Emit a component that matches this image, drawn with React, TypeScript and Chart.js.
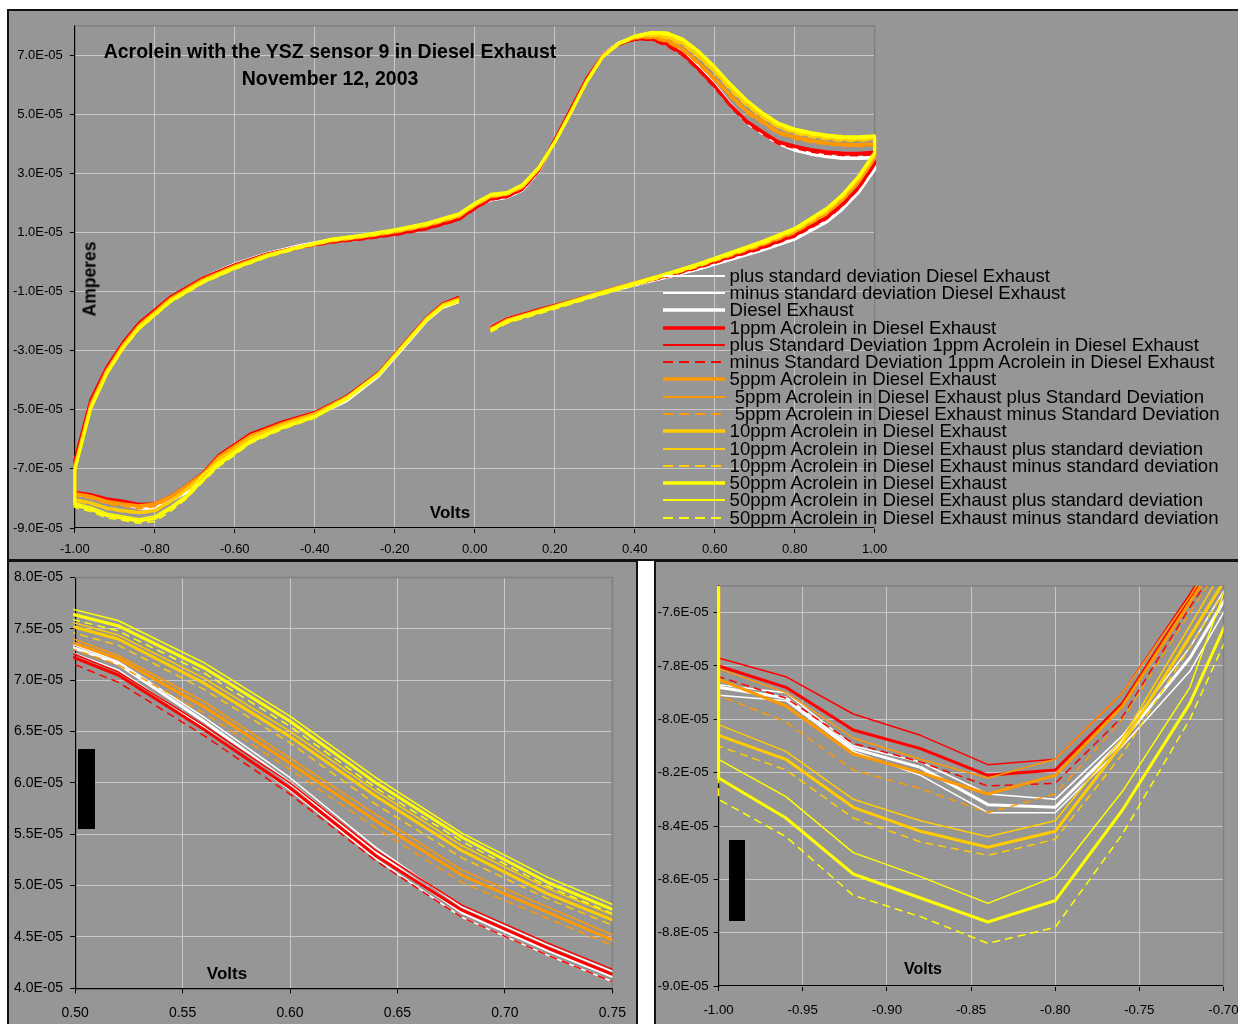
import React, { useEffect, useRef } from "react";
import { Chart, registerables } from "chart.js";

Chart.register(...registerables);

// Potential (V) in sweep order: forward 0.04 -> +1.00, reverse +1.00 -> -1.00, forward -1.00 -> -0.04
const volts = [
  0.04, 0.08, 0.16, 0.24, 0.32, 0.40, 0.48, 0.56, 0.64, 0.72, 0.80, 0.88, 0.92, 0.96, 1.00,
  1.00, 0.96, 0.92, 0.88, 0.84, 0.80, 0.76, 0.72, 0.68, 0.64, 0.60, 0.56, 0.52, 0.48, 0.44, 0.40, 0.36, 0.32, 0.28, 0.24, 0.20,
  0.16, 0.12, 0.08, 0.04, 0.00, -0.04, -0.12, -0.20, -0.28, -0.36, -0.44, -0.52, -0.60, -0.68, -0.76, -0.84, -0.88, -0.92, -0.96, -1.00,
  -1.00, -0.96, -0.92, -0.88, -0.84, -0.80, -0.76, -0.72, -0.68, -0.64, -0.56, -0.48, -0.40, -0.32, -0.24, -0.16, -0.12, -0.08, -0.04,
];

// Currents in units of 1E-05 A, same order as volts
const dePlus = [
  -2.16, -1.89, -1.59, -1.31, -1.00, -0.72, -0.46, -0.18, 0.14, 0.46, 0.85, 1.43, 1.87, 2.43, 3.20,
  3.59, 3.56, 3.56, 3.62, 3.71, 3.84, 4.08, 4.42, 4.79, 5.37, 6.05, 6.64, 7.18, 7.50, 7.64, 7.63, 7.45, 7.05, 6.24, 5.19, 4.14,
  3.12, 2.49, 2.24, 2.16, 1.88, 1.52, 1.22, 1.04, 0.90, 0.78, 0.58, 0.32, -0.04, -0.51, -1.16, -2.08, -2.74, -3.58, -4.70, -6.80,
  -7.87, -7.90, -8.10, -8.16, -8.28, -8.30, -8.06, -7.73, -7.31, -6.68, -5.94, -5.51, -5.16, -4.64, -3.80, -2.56, -1.93, -1.48, -1.29,
];
const deMinus = [
  -2.24, -1.97, -1.67, -1.39, -1.08, -0.80, -0.54, -0.26, 0.06, 0.38, 0.75, 1.33, 1.77, 2.33, 3.10,
  3.51, 3.48, 3.48, 3.54, 3.63, 3.76, 3.98, 4.32, 4.69, 5.26, 5.93, 6.54, 7.10, 7.41, 7.56, 7.57, 7.39, 6.99, 6.16, 5.11, 4.06,
  3.04, 2.41, 2.16, 2.08, 1.80, 1.44, 1.14, 0.96, 0.82, 0.70, 0.50, 0.24, -0.12, -0.59, -1.24, -2.16, -2.82, -3.66, -4.78, -6.90,
  -7.91, -7.93, -8.12, -8.21, -8.35, -8.35, -8.10, -7.82, -7.38, -6.76, -6.02, -5.59, -5.24, -4.72, -3.88, -2.64, -2.01, -1.56, -1.37,
];
const de = [
  -2.20, -1.93, -1.63, -1.35, -1.04, -0.76, -0.50, -0.22, 0.10, 0.42, 0.80, 1.38, 1.82, 2.38, 3.15,
  3.55, 3.52, 3.52, 3.58, 3.67, 3.80, 4.03, 4.37, 4.74, 5.32, 6.00, 6.60, 7.16, 7.46, 7.60, 7.60, 7.42, 7.02, 6.20, 5.15, 4.10,
  3.08, 2.45, 2.20, 2.12, 1.84, 1.48, 1.18, 1.00, 0.86, 0.74, 0.54, 0.28, -0.08, -0.55, -1.20, -2.12, -2.78, -3.62, -4.74, -6.85,
  -7.88, -7.92, -8.11, -8.18, -8.32, -8.33, -8.08, -7.77, -7.35, -6.72, -5.98, -5.55, -5.20, -4.68, -3.84, -2.60, -1.97, -1.52, -1.33,
];
const ppm1 = [
  -2.22, -1.94, -1.63, -1.34, -1.02, -0.73, -0.46, -0.16, 0.18, 0.50, 0.90, 1.50, 1.95, 2.52, 3.32,
  3.70, 3.66, 3.67, 3.71, 3.79, 3.91, 4.05, 4.39, 4.76, 5.29, 5.95, 6.52, 7.05, 7.38, 7.56, 7.55, 7.38, 7.00, 6.22, 5.18, 4.14,
  3.10, 2.48, 2.22, 2.14, 1.82, 1.45, 1.14, 0.94, 0.80, 0.68, 0.50, 0.26, -0.10, -0.55, -1.18, -2.08, -2.74, -3.56, -4.66, -6.70,
  -7.80, -7.88, -8.04, -8.11, -8.21, -8.19, -7.94, -7.55, -7.15, -6.55, -5.82, -5.42, -5.10, -4.55, -3.75, -2.50, -1.88, -1.42, -1.20,
];
const ppm1Plus = [
  -2.17, -1.89, -1.58, -1.29, -0.97, -0.68, -0.41, -0.11, 0.23, 0.55, 0.95, 1.55, 2.00, 2.57, 3.37,
  3.75, 3.71, 3.72, 3.76, 3.84, 3.96, 4.10, 4.44, 4.81, 5.34, 6.00, 6.56, 7.08, 7.42, 7.60, 7.59, 7.42, 7.04, 6.26, 5.22, 4.18,
  3.14, 2.52, 2.26, 2.18, 1.86, 1.49, 1.18, 0.98, 0.84, 0.72, 0.54, 0.30, -0.06, -0.51, -1.14, -2.04, -2.70, -3.52, -4.62, -6.65,
  -7.77, -7.84, -7.98, -8.06, -8.17, -8.15, -7.90, -7.53, -7.12, -6.51, -5.78, -5.38, -5.06, -4.51, -3.71, -2.46, -1.84, -1.38, -1.16,
];
const ppm1Minus = [
  -2.27, -1.99, -1.68, -1.39, -1.07, -0.78, -0.51, -0.21, 0.13, 0.45, 0.85, 1.45, 1.90, 2.47, 3.27,
  3.64, 3.60, 3.61, 3.65, 3.73, 3.85, 3.98, 4.32, 4.69, 5.24, 5.89, 6.46, 6.98, 7.32, 7.51, 7.51, 7.34, 6.96, 6.18, 5.14, 4.10,
  3.06, 2.44, 2.18, 2.10, 1.78, 1.41, 1.10, 0.90, 0.76, 0.64, 0.46, 0.22, -0.14, -0.59, -1.22, -2.12, -2.78, -3.60, -4.70, -6.75,
  -7.84, -7.92, -8.09, -8.16, -8.25, -8.24, -7.99, -7.58, -7.20, -6.59, -5.86, -5.46, -5.14, -4.59, -3.79, -2.54, -1.92, -1.46, -1.24,
];
const ppm5 = [
  -2.28, -1.98, -1.66, -1.35, -1.02, -0.72, -0.43, -0.11, 0.25, 0.60, 1.02, 1.66, 2.12, 2.72, 3.52,
  3.98, 3.96, 3.97, 4.02, 4.10, 4.22, 4.38, 4.74, 5.10, 5.63, 6.19, 6.74, 7.21, 7.50, 7.63, 7.60, 7.40, 6.98, 6.15, 5.10, 4.08,
  3.15, 2.55, 2.30, 2.22, 1.92, 1.55, 1.24, 1.02, 0.86, 0.72, 0.50, 0.24, -0.14, -0.60, -1.24, -2.15, -2.82, -3.66, -4.80, -6.90,
  -7.85, -7.95, -8.13, -8.20, -8.28, -8.21, -7.95, -7.56, -7.18, -6.60, -5.88, -5.47, -5.14, -4.58, -3.77, -2.52, -1.90, -1.45, -1.25,
];
const ppm5Plus = [
  -2.23, -1.93, -1.61, -1.30, -0.97, -0.67, -0.38, -0.06, 0.30, 0.65, 1.07, 1.71, 2.17, 2.77, 3.57,
  4.03, 4.01, 4.02, 4.07, 4.15, 4.27, 4.43, 4.79, 5.15, 5.69, 6.24, 6.79, 7.24, 7.55, 7.67, 7.64, 7.44, 7.02, 6.19, 5.14, 4.12,
  3.19, 2.59, 2.34, 2.26, 1.96, 1.59, 1.28, 1.06, 0.90, 0.76, 0.54, 0.28, -0.10, -0.56, -1.20, -2.11, -2.78, -3.62, -4.76, -6.85,
  -7.81, -7.90, -8.07, -8.15, -8.22, -8.15, -7.90, -7.54, -7.14, -6.56, -5.84, -5.43, -5.10, -4.54, -3.73, -2.48, -1.86, -1.41, -1.21,
];
const ppm5Minus = [
  -2.33, -2.03, -1.71, -1.40, -1.07, -0.77, -0.48, -0.16, 0.20, 0.55, 0.97, 1.61, 2.07, 2.67, 3.47,
  3.93, 3.91, 3.92, 3.97, 4.05, 4.17, 4.33, 4.68, 5.03, 5.56, 6.13, 6.68, 7.15, 7.44, 7.58, 7.56, 7.36, 6.94, 6.11, 5.06, 4.04,
  3.11, 2.51, 2.26, 2.18, 1.88, 1.51, 1.20, 0.98, 0.82, 0.68, 0.46, 0.20, -0.18, -0.64, -1.28, -2.19, -2.86, -3.70, -4.84, -6.95,
  -7.91, -8.01, -8.19, -8.26, -8.35, -8.28, -8.00, -7.60, -7.22, -6.64, -5.92, -5.51, -5.18, -4.62, -3.81, -2.56, -1.94, -1.49, -1.29,
];
const ppm10 = [
  -2.30, -2.00, -1.68, -1.36, -1.03, -0.72, -0.42, -0.09, 0.28, 0.65, 1.08, 1.74, 2.22, 2.82, 3.62,
  4.18, 4.15, 4.15, 4.20, 4.28, 4.40, 4.58, 4.92, 5.34, 5.87, 6.45, 6.97, 7.40, 7.63, 7.70, 7.62, 7.40, 6.96, 6.12, 5.07, 4.06,
  3.18, 2.58, 2.32, 2.25, 1.95, 1.58, 1.27, 1.05, 0.88, 0.74, 0.50, 0.22, -0.17, -0.64, -1.28, -2.20, -2.87, -3.72, -4.88, -6.98,
  -8.06, -8.15, -8.33, -8.42, -8.48, -8.42, -8.09, -7.69, -7.28, -6.70, -5.95, -5.52, -5.18, -4.60, -3.79, -2.54, -1.93, -1.47, -1.28,
];
const ppm10Plus = [
  -2.25, -1.95, -1.63, -1.31, -0.98, -0.67, -0.37, -0.04, 0.33, 0.70, 1.13, 1.79, 2.27, 2.87, 3.67,
  4.23, 4.20, 4.20, 4.25, 4.33, 4.45, 4.63, 4.97, 5.39, 5.92, 6.50, 7.02, 7.44, 7.67, 7.74, 7.66, 7.44, 7.00, 6.16, 5.11, 4.10,
  3.22, 2.62, 2.36, 2.29, 1.99, 1.62, 1.31, 1.09, 0.92, 0.78, 0.54, 0.26, -0.13, -0.60, -1.24, -2.16, -2.83, -3.68, -4.84, -6.93,
  -8.02, -8.12, -8.30, -8.38, -8.44, -8.38, -8.07, -7.65, -7.22, -6.66, -5.91, -5.48, -5.14, -4.56, -3.75, -2.50, -1.89, -1.43, -1.24,
];
const ppm10Minus = [
  -2.35, -2.05, -1.73, -1.41, -1.08, -0.77, -0.47, -0.14, 0.23, 0.60, 1.03, 1.69, 2.17, 2.77, 3.57,
  4.12, 4.09, 4.09, 4.14, 4.22, 4.34, 4.53, 4.87, 5.27, 5.79, 6.39, 6.91, 7.34, 7.57, 7.65, 7.58, 7.36, 6.92, 6.08, 5.03, 4.02,
  3.14, 2.54, 2.28, 2.21, 1.91, 1.54, 1.23, 1.01, 0.84, 0.70, 0.46, 0.18, -0.21, -0.68, -1.32, -2.24, -2.91, -3.76, -4.92, -7.03,
  -8.10, -8.19, -8.37, -8.46, -8.51, -8.45, -8.13, -7.73, -7.32, -6.74, -5.99, -5.56, -5.22, -4.64, -3.83, -2.58, -1.97, -1.51, -1.32,
];
const ppm50 = [
  -2.32, -2.02, -1.70, -1.38, -1.05, -0.74, -0.42, -0.08, 0.30, 0.68, 1.12, 1.80, 2.28, 2.90, 3.70,
  4.25, 4.22, 4.23, 4.28, 4.36, 4.48, 4.68, 5.03, 5.47, 6.00, 6.60, 7.12, 7.53, 7.74, 7.76, 7.64, 7.40, 6.95, 6.10, 5.05, 4.05,
  3.20, 2.62, 2.34, 2.28, 1.98, 1.62, 1.30, 1.08, 0.90, 0.76, 0.50, 0.20, -0.20, -0.68, -1.32, -2.25, -2.92, -3.78, -4.95, -7.05,
  -8.22, -8.37, -8.58, -8.67, -8.76, -8.68, -8.34, -7.94, -7.38, -6.85, -6.08, -5.60, -5.24, -4.62, -3.80, -2.56, -1.95, -1.50, -1.32,
];
const ppm50Plus = [
  -2.27, -1.97, -1.65, -1.33, -1.00, -0.69, -0.37, -0.03, 0.35, 0.73, 1.17, 1.85, 2.33, 2.95, 3.75,
  4.30, 4.27, 4.28, 4.33, 4.41, 4.53, 4.73, 5.08, 5.51, 6.05, 6.65, 7.17, 7.58, 7.79, 7.80, 7.68, 7.44, 6.99, 6.14, 5.09, 4.09,
  3.24, 2.66, 2.38, 2.32, 2.02, 1.66, 1.34, 1.12, 0.94, 0.80, 0.54, 0.24, -0.16, -0.64, -1.28, -2.21, -2.88, -3.74, -4.91, -7.00,
  -8.15, -8.29, -8.50, -8.59, -8.69, -8.59, -8.27, -7.88, -7.18, -6.78, -6.03, -5.56, -5.20, -4.58, -3.76, -2.52, -1.91, -1.46, -1.28,
];
const ppm50Minus = [
  -2.37, -2.07, -1.75, -1.43, -1.10, -0.79, -0.47, -0.13, 0.25, 0.63, 1.07, 1.75, 2.23, 2.85, 3.65,
  4.20, 4.17, 4.18, 4.23, 4.31, 4.43, 4.64, 4.99, 5.43, 5.95, 6.55, 7.07, 7.48, 7.69, 7.71, 7.60, 7.36, 6.91, 6.06, 5.01, 4.01,
  3.16, 2.58, 2.30, 2.24, 1.94, 1.58, 1.26, 1.04, 0.86, 0.72, 0.46, 0.16, -0.24, -0.72, -1.36, -2.29, -2.96, -3.82, -4.99, -7.10,
  -8.30, -8.44, -8.66, -8.74, -8.84, -8.78, -8.43, -8.00, -7.44, -6.92, -6.13, -5.65, -5.28, -4.66, -3.84, -2.60, -1.99, -1.54, -1.36,
];

const seriesLabels = [
  "plus standard deviation Diesel Exhaust",
  "minus standard deviation Diesel Exhaust",
  "Diesel Exhaust",
  "1ppm Acrolein in Diesel Exhaust",
  "plus Standard Deviation 1ppm Acrolein in Diesel Exhaust",
  "minus Standard Deviation 1ppm Acrolein in Diesel Exhaust",
  "5ppm Acrolein in Diesel Exhaust",
  " 5ppm Acrolein in Diesel Exhaust plus Standard Deviation",
  " 5ppm Acrolein in Diesel Exhaust minus Standard Deviation",
  "10ppm Acrolein in Diesel Exhaust",
  "10ppm Acrolein in Diesel Exhaust plus standard deviation",
  "10ppm Acrolein in Diesel Exhaust minus standard deviation",
  "50ppm Acrolein in Diesel Exhaust",
  "50ppm Acrolein in Diesel Exhaust plus standard deviation",
  "50ppm Acrolein in Diesel Exhaust minus standard deviation",
];
const seriesValues = [
  dePlus, deMinus, de,
  ppm1, ppm1Plus, ppm1Minus,
  ppm5, ppm5Plus, ppm5Minus,
  ppm10, ppm10Plus, ppm10Minus,
  ppm50, ppm50Plus, ppm50Minus,
];

// Axis ticks (y in units of 1E-05 A)
const mainXTicks = [-1.0, -0.8, -0.6, -0.4, -0.2, 0.0, 0.2, 0.4, 0.6, 0.8, 1.0];
const mainYTicks = [-9.0, -7.0, -5.0, -3.0, -1.0, 1.0, 3.0, 5.0, 7.0];
const leftXTicks = [0.5, 0.55, 0.6, 0.65, 0.7, 0.75];
const leftYTicks = [4.0, 4.5, 5.0, 5.5, 6.0, 6.5, 7.0, 7.5, 8.0];
const rightXTicks = [-1.0, -0.95, -0.9, -0.85, -0.8, -0.75, -0.7];
const rightYTicks = [-9.0, -8.8, -8.6, -8.4, -8.2, -8.0, -7.8, -7.6];

const FONT = "'Liberation Sans', Arial, Helvetica, sans-serif";
const PANEL = "#969696";
const WHITE = "#FFFFFF";
const RED = "#FF0000";
const ORANGE = "#FF9900";
const GOLD = "#FFCC00";
const YELLOW = "#FFFF00";

type LineStyle = { color: string; kind: "thick" | "thin" | "dash" };
const lineStyles: LineStyle[] = [
  { color: WHITE, kind: "thin" }, { color: WHITE, kind: "thin" }, { color: WHITE, kind: "thick" },
  { color: RED, kind: "thick" }, { color: RED, kind: "thin" }, { color: RED, kind: "dash" },
  { color: ORANGE, kind: "thick" }, { color: ORANGE, kind: "thin" }, { color: ORANGE, kind: "dash" },
  { color: GOLD, kind: "thick" }, { color: GOLD, kind: "thin" }, { color: GOLD, kind: "dash" },
  { color: YELLOW, kind: "thick" }, { color: YELLOW, kind: "thin" }, { color: YELLOW, kind: "dash" },
];

type PanelCfg = {
  width: number; height: number;
  xMin: number; xMax: number; xTicks: number[];
  yMin: number; yMax: number; yTicks: number[];
  yAxisWidth: number; xAxisHeight: number;
  pad: { left: number; top: number; right: number; bottom: number };
  font: number; yLabelPad: number; xLabelPad: number;
  clip: boolean;
};

const plotBorder = {
  id: "plotBorder",
  beforeDatasetsDraw(chart: any) {
    const { ctx, chartArea: a } = chart;
    ctx.save();
    ctx.strokeStyle = "#808080";
    ctx.lineWidth = 1.5;
    ctx.beginPath();
    ctx.moveTo(a.left, a.top);
    ctx.lineTo(a.right, a.top);
    ctx.lineTo(a.right, a.bottom);
    ctx.stroke();
    ctx.restore();
  },
};

function buildConfig(c: PanelCfg): any {
  const n = seriesValues.length;
  const datasets = seriesValues.map((vals, i) => {
    const st = lineStyles[i];
    return {
      label: seriesLabels[i],
      data: vals.map((v, j) => ({ x: volts[j], y: v * 1e-5 })),
      borderColor: st.color,
      backgroundColor: st.color,
      borderWidth: st.kind === "thick" ? 3 : 1.5,
      borderDash: st.kind === "dash" ? [8, 5] : [],
      borderJoinStyle: "round",
      pointRadius: 0,
      showLine: true,
      fill: false,
      tension: 0,
      order: n - i,
      clip: c.clip ? { left: 2, top: 0, right: 0, bottom: 0 } : false,
    };
  });
  const tickFont = { family: FONT, size: c.font };
  return {
    type: "scatter",
    data: { datasets },
    plugins: [plotBorder],
    options: {
      animation: false,
      responsive: false,
      events: [],
      layout: { padding: c.pad },
      plugins: { legend: { display: false }, tooltip: { enabled: false }, title: { display: false } },
      scales: {
        x: {
          type: "linear",
          min: c.xMin,
          max: c.xMax,
          afterBuildTicks: (s: any) => { s.ticks = c.xTicks.map((v) => ({ value: v })); },
          afterFit: (s: any) => { s.height = c.xAxisHeight; },
          ticks: {
            callback: (v: any) => Number(v).toFixed(2),
            color: "#000",
            font: tickFont,
            padding: c.xLabelPad,
            maxRotation: 0,
            autoSkip: false,
          },
          grid: { color: "#c8c8c8", lineWidth: 1, tickLength: 5, tickColor: "#000", drawTicks: true },
          border: { color: "#000", width: 1.2 },
        },
        y: {
          type: "linear",
          min: c.yMin * 1e-5,
          max: c.yMax * 1e-5,
          afterBuildTicks: (s: any) => { s.ticks = c.yTicks.map((v) => ({ value: v * 1e-5 })); },
          afterFit: (s: any) => { s.width = c.yAxisWidth; },
          ticks: {
            callback: (v: any) => (Number(v) / 1e-5).toFixed(1) + "E-05",
            color: "#000",
            font: tickFont,
            padding: c.yLabelPad,
            autoSkip: false,
          },
          grid: { color: "#c8c8c8", lineWidth: 1, tickLength: 5, tickColor: "#000", drawTicks: true },
          border: { color: "#000", width: 1.2 },
        },
      },
    },
  };
}

function ChartCanvas({ cfg, left, top }: { cfg: PanelCfg; left: number; top: number }) {
  const ref = useRef<HTMLCanvasElement>(null);
  useEffect(() => {
    const chart = new Chart(ref.current as HTMLCanvasElement, buildConfig(cfg));
    return () => chart.destroy();
  }, []);
  return (
    <canvas
      ref={ref}
      width={cfg.width}
      height={cfg.height}
      style={{ position: "absolute", left, top, width: cfg.width, height: cfg.height }}
    />
  );
}

const mainCfg: PanelCfg = {
  width: 1230, height: 549,
  xMin: -1, xMax: 1, xTicks: mainXTicks,
  yMin: -9, yMax: 8, yTicks: mainYTicks,
  yAxisWidth: 66.8, xAxisHeight: 32,
  pad: { left: 0, top: 11.6, right: 363.3, bottom: 0 },
  font: 13, yLabelPad: 7, xLabelPad: 9,
  clip: false,
};
const leftCfg: PanelCfg = {
  width: 628, height: 462,
  xMin: 0.5, xMax: 0.75, xTicks: leftXTicks,
  yMin: 4, yMax: 8, yTicks: leftYTicks,
  yAxisWidth: 66.1, xAxisHeight: 34,
  pad: { left: 0, top: 13, right: 15.8, bottom: 1.7 },
  font: 14, yLabelPad: 7, xLabelPad: 11,
  clip: true,
};
const rightCfg: PanelCfg = {
  width: 600, height: 462,
  xMin: -1, xMax: -0.7, xTicks: rightXTicks,
  yMin: -9, yMax: -7.5, yTicks: rightYTicks,
  yAxisWidth: 62.6, xAxisHeight: 34,
  pad: { left: 0, top: 24, right: 32.5, bottom: 4 },
  font: 13.3, yLabelPad: 5, xLabelPad: 11,
  clip: true,
};

const abs = (s: React.CSSProperties): React.CSSProperties => ({ position: "absolute", ...s });

export default function App() {
  const legendTop = 275.7;
  const legendStep = 17.28;
  return (
    <div style={abs({ left: 0, top: 0, width: 1238, height: 1024, overflow: "hidden", background: "#fff", fontFamily: FONT })}>
      <div style={abs({ left: 7, top: 9, width: 1240, height: 552, background: PANEL, border: "2px solid #111", boxSizing: "border-box" })} />
      <div style={abs({ left: 7, top: 560, width: 631, height: 470, background: PANEL, border: "2px solid #111", boxSizing: "border-box" })} />
      <div style={abs({ left: 654, top: 560, width: 600, height: 470, background: PANEL, border: "2px solid #111", boxSizing: "border-box" })} />

      <ChartCanvas cfg={mainCfg} left={8} top={11} />
      <ChartCanvas cfg={leftCfg} left={9} top={562} />
      <ChartCanvas cfg={rightCfg} left={656} top={562} />

      <div style={abs({ left: 30, top: 38, width: 600, textAlign: "center", fontWeight: "bold", fontSize: 19.5, lineHeight: "27.3px", color: "#000" })}>
        Acrolein with the YSZ sensor 9 in Diesel Exhaust
        <br />
        November 12, 2003
      </div>
      <div style={abs({ left: 90, top: 279, transform: "translate(-50%, -50%) rotate(-90deg)", fontWeight: "bold", fontSize: 17.5, whiteSpace: "nowrap", color: "#000" })}>
        Amperes
      </div>
      <div style={abs({ left: 450, top: 513, transform: "translate(-50%, -50%)", fontWeight: "bold", fontSize: 17, color: "#000" })}>Volts</div>
      <div style={abs({ left: 227, top: 974, transform: "translate(-50%, -50%)", fontWeight: "bold", fontSize: 17, color: "#000" })}>Volts</div>
      <div style={abs({ left: 923, top: 969, transform: "translate(-50%, -50%)", fontWeight: "bold", fontSize: 16, color: "#000" })}>Volts</div>

      <div style={abs({ left: 77.5, top: 749, width: 17.5, height: 80, background: "#000" })} />
      <div style={abs({ left: 728.5, top: 840, width: 16.5, height: 81, background: "#000" })} />

      {seriesLabels.map((label, i) => {
        const cy = legendTop + i * legendStep;
        const st = lineStyles[i];
        return (
          <React.Fragment key={i}>
            <svg style={abs({ left: 660, top: cy - 5 })} width={68} height={10}>
              <line
                x1={3} y1={5} x2={65} y2={5}
                stroke={st.color}
                strokeWidth={st.kind === "thick" ? 3.5 : 2}
                strokeDasharray={st.kind === "dash" ? "10 6" : undefined}
              />
            </svg>
            <div style={abs({ left: 729.6, top: cy - 11, height: 22, lineHeight: "22px", fontSize: 18.6, whiteSpace: "pre", color: "#000" })}>
              {label}
            </div>
          </React.Fragment>
        );
      })}
    </div>
  );
}
